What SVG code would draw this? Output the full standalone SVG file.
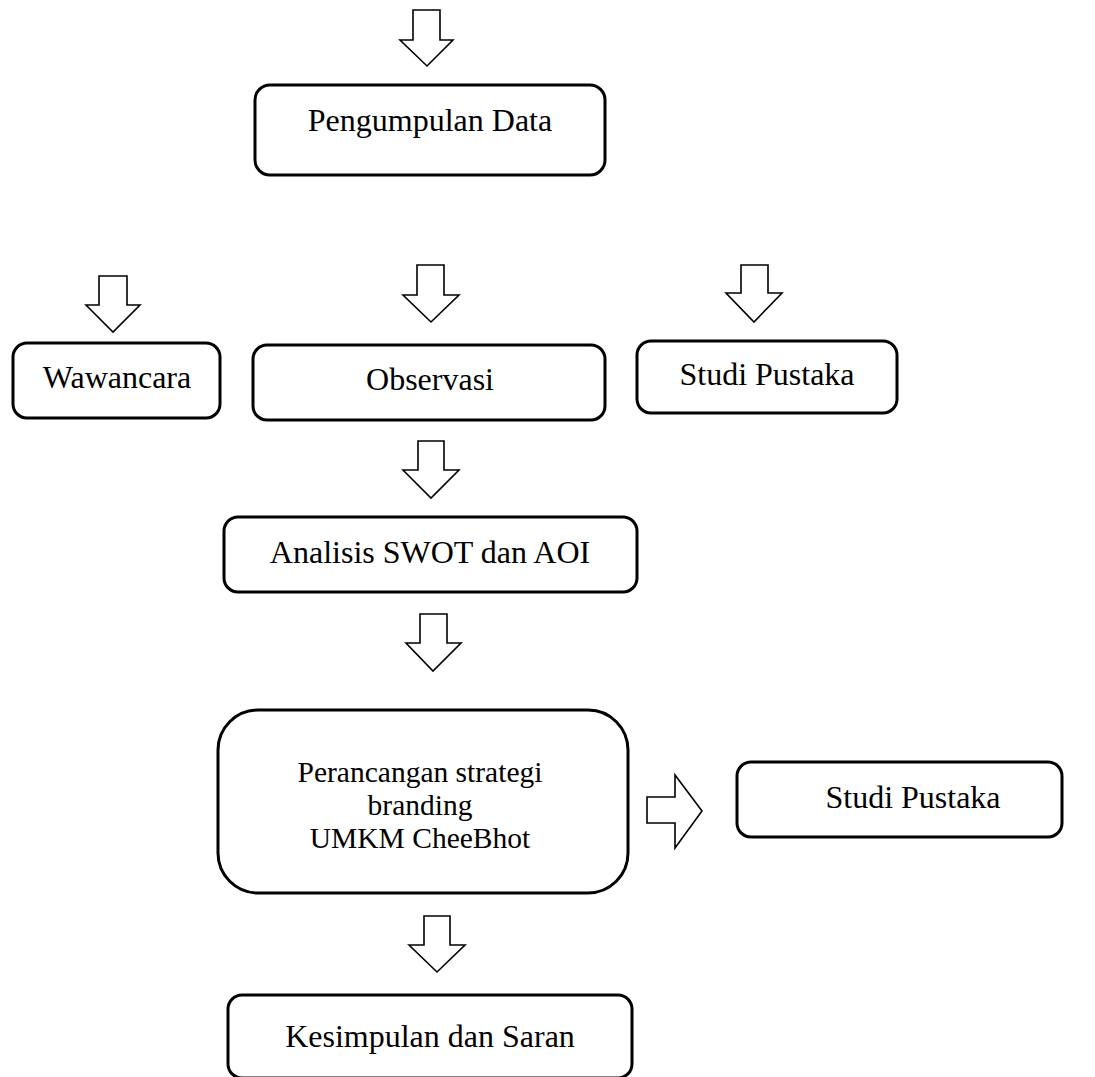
<svg xmlns="http://www.w3.org/2000/svg" width="1095" height="1077" viewBox="0 0 1095 1077">
<style>
.box{fill:#fff;stroke:#000;stroke-width:3}
.arr{fill:#fff;stroke:#000;stroke-width:1.6;stroke-linejoin:miter}
.t{font-family:"Liberation Serif","Times New Roman",serif;font-size:32px;fill:#000;text-anchor:middle}
.t2{font-family:"Liberation Serif","Times New Roman",serif;font-size:29.5px;fill:#000;text-anchor:middle}
</style>
<rect width="1095" height="1077" fill="#fff"/>
<g id="connectors">
<polygon class="arr" points="413,10 440,10 440,40 453,40 427,66 400,40 413,40"/>
<polygon class="arr" points="99,276 127,276 127,305 140,305 113,332 86,305 99,305"/>
<polygon class="arr" points="417,265 444,265 444,295 459,295 431,322 403,295 417,295"/>
<polygon class="arr" points="741,265 768,265 768,293 782,293 754,322 726,293 741,293"/>
<polygon class="arr" points="418,441 444,441 444,470 459,470 431,498 403,470 418,470"/>
<polygon class="arr" points="420,614 447,614 447,643 461,643 433,671 406,643 420,643"/>
<polygon class="arr" points="647,797 675,797 675,775 702,811 675,848 675,823 647,823"/>
<polygon class="arr" points="424,916 450,916 450,945 465,945 437,972 409,945 424,945"/>
</g>
<g id="pengumpulan">
<rect class="box" x="255" y="85" width="350" height="90" rx="15"/>
<text class="t" x="430" y="131">Pengumpulan Data</text>
</g>
<g id="wawancara">
<rect class="box" x="13" y="343" width="207" height="75" rx="14"/>
<text class="t" x="117" y="388">Wawancara</text>
</g>
<g id="observasi">
<rect class="box" x="253" y="345" width="352" height="75" rx="14"/>
<text class="t" x="430" y="390">Observasi</text>
</g>
<g id="studi1">
<rect class="box" x="637" y="341" width="260" height="72" rx="14"/>
<text class="t" x="767" y="385">Studi Pustaka</text>
</g>
<g id="analisis">
<rect class="box" x="224" y="517" width="413" height="75" rx="14"/>
<text class="t" x="430" y="563">Analisis SWOT dan AOI</text>
</g>
<g id="perancangan">
<rect class="box" x="218" y="710" width="410" height="183" rx="40"/>
<text class="t2" x="420" y="782">Perancangan strategi</text>
<text class="t2" x="420" y="815">branding</text>
<text class="t2" x="420" y="848">UMKM CheeBhot</text>
</g>
<g id="studi2">
<rect class="box" x="737" y="762" width="325" height="75" rx="14"/>
<text class="t" x="913" y="808">Studi Pustaka</text>
</g>
<g id="kesimpulan">
<rect class="box" x="228" y="995" width="404" height="83" rx="14"/>
<text class="t" x="430" y="1047">Kesimpulan dan Saran</text>
</g>
</svg>
